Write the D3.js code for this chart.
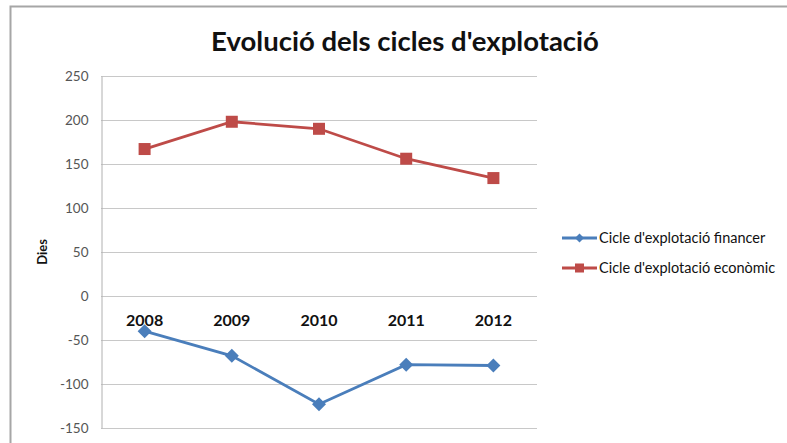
<!DOCTYPE html>
<html>
<head>
<meta charset="utf-8">
<script src="https://cdn.jsdelivr.net/npm/d3@7"></script>
<style>
html,body{margin:0;padding:0;background:#fff;}
svg{display:block;}
</style>
</head>
<body>
<script>
const categories = ["2008","2009","2010","2011","2012"];
const financer = [-40, -68, -123, -78, -79];
const economic = [167, 198, 190, 156, 134];
const yTicks = [250, 200, 150, 100, 50, 0, -50, -100, -150];
const seriesNames = ["Cicle d'explotació financer", "Cicle d'explotació econòmic"];
const title = "Evolució dels cicles d'explotació";
const yLabel = "Dies";

const W = 787, H = 443;
const font = "Lato, 'Open Sans', sans-serif";
const svg = d3.select("body").append("svg").attr("width", W).attr("height", H);

// outer frame
svg.append("path").attr("d", `M10.5,${H+2} L10.5,6.5 L${W+2},6.5`)
  .attr("fill","none").attr("stroke","#a6a6a6").attr("stroke-width",2);

const plot = {left:101, right:537, top:76, bottom:428};
const x = d3.scaleBand().domain(categories).range([plot.left, plot.right]);
const y = d3.scaleLinear().domain([-150, 250]).range([plot.bottom, plot.top]);

// gridlines
svg.append("g").selectAll("line").data(yTicks).join("line")
  .attr("x1", plot.left).attr("x2", plot.right)
  .attr("y1", d => Math.round(y(d))+0.5).attr("y2", d => Math.round(y(d))+0.5)
  .attr("stroke", "#c8c8c8").attr("stroke-width", 1);

// y axis
const yAxis = d3.axisLeft(y).tickValues(yTicks).tickSize(0).tickPadding(13).tickFormat(d => String(d));
const ya = svg.append("g").attr("transform", `translate(${plot.left+0.5},0)`).call(yAxis);
ya.select(".domain").attr("stroke", "#b0b0b0");
ya.selectAll("text").attr("font-family", font).attr("font-size", 13.5).attr("fill", "#555");

// x axis labels next to zero line
const xAxis = d3.axisBottom(x).tickSize(0).tickPadding(19);
const xa = svg.append("g").attr("transform", `translate(0,${y(0)})`).call(xAxis);
xa.select(".domain").remove();
xa.selectAll("text").attr("font-family", font).attr("font-size", 16).attr("font-weight", "bold").attr("fill", "#111");

// title
svg.append("text").attr("x", 405).attr("y", 51).attr("text-anchor","middle")
  .attr("font-family", font).attr("font-size", 27.5).attr("font-weight","bold").attr("fill","#111")
  .text(title);

// y label
svg.append("text").attr("transform", `translate(47,252) rotate(-90)`).attr("text-anchor","middle")
  .attr("font-family", font).attr("font-size", 13).attr("font-weight","bold").attr("fill","#111")
  .text(yLabel);

const cx = c => x(c) + x.bandwidth()/2;
const line = d3.line().x((d,i) => cx(categories[i])).y(d => y(d));
const colors = ["#4a7ebb", "#be4b48"];

function drawDiamond(g, px, py, s, color){
  g.append("path").attr("d", `M${px},${py-s} L${px+s},${py} L${px},${py+s} L${px-s},${py} Z`).attr("fill", color);
}
function drawSquare(g, px, py, s, color){
  g.append("rect").attr("x", px-s).attr("y", py-s).attr("width", 2*s).attr("height", 2*s).attr("fill", color);
}

// financer series
svg.append("path").datum(financer).attr("d", line).attr("fill","none")
  .attr("stroke", colors[0]).attr("stroke-width", 2.8);
const gf = svg.append("g");
financer.forEach((v,i) => drawDiamond(gf, cx(categories[i]), y(v), 7, colors[0]));

// economic series
svg.append("path").datum(economic).attr("d", line).attr("fill","none")
  .attr("stroke", colors[1]).attr("stroke-width", 2.8);
const ge = svg.append("g");
economic.forEach((v,i) => drawSquare(ge, cx(categories[i]), y(v), 6, colors[1]));

// legend
const leg = svg.append("g");
seriesNames.forEach((name, i) => {
  const ly = 238 + i*30;
  leg.append("line").attr("x1", 562).attr("x2", 597).attr("y1", ly).attr("y2", ly)
    .attr("stroke", colors[i]).attr("stroke-width", 2.8);
  if (i === 0) drawDiamond(leg, 579.5, ly, 4.5, colors[0]);
  else drawSquare(leg, 579.5, ly, 4.5, colors[1]);
  leg.append("text").attr("x", 599).attr("y", ly + 5)
    .attr("font-family", font).attr("font-size", 14.5).attr("fill", "#111").text(name);
});
</script>
</body>
</html>
